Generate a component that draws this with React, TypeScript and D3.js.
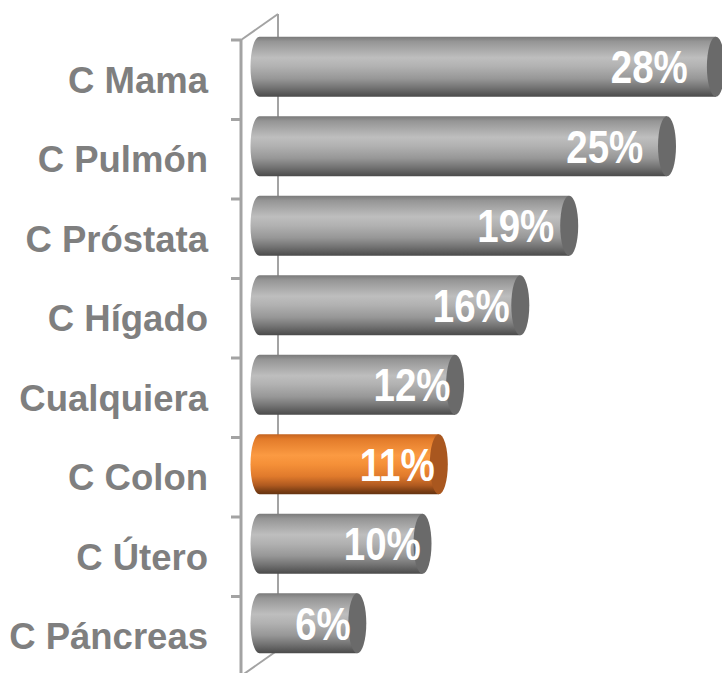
import React from 'react';
import * as d3 from 'd3';

const categories = ['C Mama', 'C Pulmón', 'C Próstata', 'C Hígado', 'Cualquiera', 'C Colon', 'C Útero', 'C Páncreas'];
const values = [28, 25, 19, 16, 12, 11, 10, 6];
const highlighted = ['C Colon'];

const W = 722;
const H = 673;
const front = { left: 241, top: 40, bottom: 676 };
const depth = { dx: 37, dy: -26 };

const grayStops = [
  [0, '#7a7a7a'], [0.08, '#959595'], [0.35, '#bebebe'], [0.5, '#b1b1b1'],
  [0.7, '#979797'], [0.85, '#737373'], [0.95, '#585858'], [1, '#4a4a4a'],
];
const orangeStops = [
  [0, '#c4631f'], [0.08, '#e27b2a'], [0.35, '#fb9a42'], [0.5, '#f59038'],
  [0.7, '#e07a2c'], [0.85, '#b05a20'], [0.95, '#7a3e14'], [1, '#653310'],
];

const App = () => {
  const x = d3.scaleLinear().domain([0, 30]).range([front.left, 730]);
  const y = d3.scaleBand().domain(categories).range([front.top, front.bottom]);
  const bw = y.bandwidth();
  const barH = bw * 0.755;
  const rx = 9;
  const ox = depth.dx / 2;
  const oy = depth.dy / 2;
  const ticks = d3.range(categories.length + 1).map((i) => front.top + i * bw);
  const lineColor = '#a3a3a3';

  return (
    <svg width={W} height={H} style={{ position: 'absolute', left: 0, top: 0 }}>
      <defs>
        {[['gray', grayStops], ['orange', orangeStops]].map(([id, stops]) => (
          <linearGradient key={id as string} id={`g-${id}`} x1="0" y1="0" x2="0" y2="1">
            {(stops as any[]).map(([o, c]) => (
              <stop key={o} offset={o} stopColor={c} />
            ))}
          </linearGradient>
        ))}
      </defs>

      {/* back wall and floor edges */}
      <line x1={front.left + depth.dx} y1={front.top + depth.dy} x2={front.left + depth.dx} y2={front.bottom + depth.dy} stroke={lineColor} strokeWidth={2} />
      <line x1={front.left} y1={front.top} x2={front.left + depth.dx} y2={front.top + depth.dy} stroke={lineColor} strokeWidth={2} />
      <line x1={front.left} y1={front.bottom} x2={front.left + depth.dx} y2={front.bottom + depth.dy} stroke={lineColor} strokeWidth={2} />

      {categories.map((c, i) => {
        const v = values[i];
        const cy = y(c)! + bw / 2 + oy;
        const x0 = x(0) + ox;
        const x1 = x(v) + ox;
        const top = cy - barH / 2;
        const bottom = cy + barH / 2;
        const hi = highlighted.includes(c);
        const d = `M${x0},${top}L${x1},${top}L${x1},${bottom}L${x0},${bottom}A${rx},${barH / 2} 0 0 1 ${x0},${top}Z`;
        return (
          <g key={c}>
            <path d={d} fill={`url(#g-${hi ? 'orange' : 'gray'})`} />
            <ellipse cx={x1} cy={cy} rx={rx} ry={barH / 2} fill={hi ? '#a9571f' : '#6a6a6a'} />
            <g transform={`translate(${x(v * 0.91) - 7},${cy}) scale(1,1.2)`}>
              <text
                textAnchor="middle"
                dy="0.36em"
                fill="#fff"
                fontFamily="'Liberation Sans', Arial, sans-serif"
                fontWeight="bold"
                fontSize={38.5}
              >
                {`${v}%`}
              </text>
            </g>
          </g>
        );
      })}

      {/* front axis */}
      <line x1={front.left} y1={front.top} x2={front.left} y2={front.bottom} stroke={lineColor} strokeWidth={3} />
      {ticks.map((t) => (
        <line key={t} x1={front.left - 10} y1={t} x2={front.left} y2={t} stroke={lineColor} strokeWidth={3} />
      ))}

      {categories.map((c) => (
        <text
          key={c}
          x={208}
          y={y(c)! + bw / 2}
          dy="0.36em"
          textAnchor="end"
          fill="#7f7f7f"
          fontFamily="'Liberation Sans', Arial, sans-serif"
          fontWeight="bold"
          fontSize={36.5}
        >
          {c}
        </text>
      ))}
    </svg>
  );
};

export default App;
